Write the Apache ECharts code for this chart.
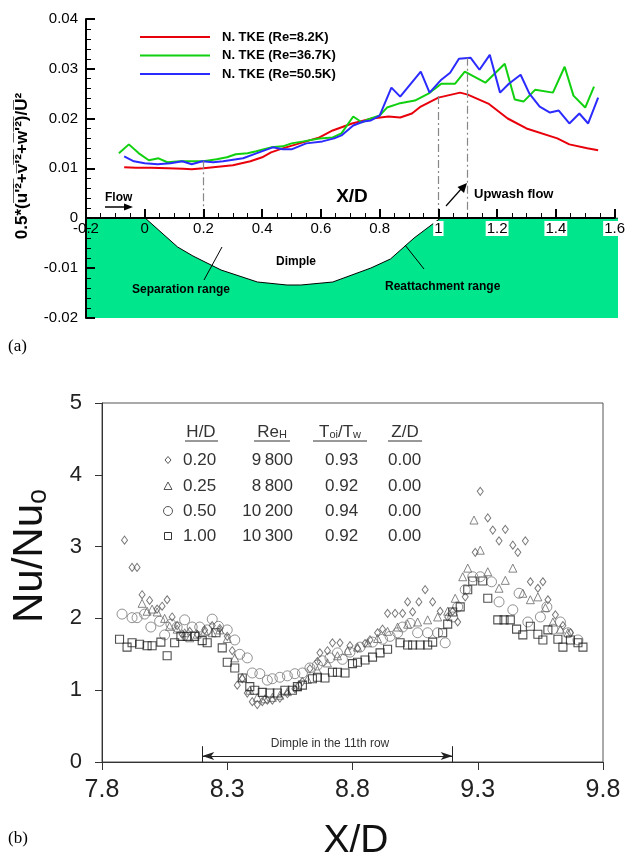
<!DOCTYPE html>
<html><head><meta charset="utf-8">
<script src="https://cdn.jsdelivr.net/npm/echarts@6/dist/echarts.min.js"></script>
<style>html,body{margin:0;padding:0;background:#fff}#c{width:629px;height:865px}</style>
</head><body><div id="c"></div>
<script>
// ---------- (a) data ----------
const seriesNamesA = ['N. TKE (Re=8.2K)', 'N. TKE (Re=36.7K)', 'N. TKE (Re=50.5K)'];
const tkeRe8_2K = [[-0.07,0.0102],[-0.03,0.0101],[0.02,0.0101],[0.08,0.0100],[0.13,0.0099],[0.16,0.0098],[0.2,0.0100],[0.25,0.0103],[0.3,0.0106],[0.36,0.0114],[0.40,0.0122],[0.43,0.0132],[0.47,0.0140],[0.527,0.0150],[0.595,0.0162],[0.64,0.0176],[0.706,0.0190],[0.774,0.0200],[0.83,0.0204],[0.87,0.0202],[0.91,0.0210],[0.94,0.0224],[1.0,0.0242],[1.074,0.0252],[1.1,0.0248],[1.17,0.0230],[1.236,0.0200],[1.30,0.0180],[1.405,0.0160],[1.446,0.0148],[1.507,0.0140],[1.544,0.0136]];
const tkeRe36_7K = [[-0.088,0.0130],[-0.054,0.0148],[-0.02,0.0130],[0.014,0.0116],[0.047,0.0120],[0.077,0.0112],[0.12,0.0114],[0.2,0.0114],[0.245,0.0118],[0.28,0.0122],[0.31,0.0128],[0.35,0.0130],[0.38,0.0134],[0.43,0.0142],[0.47,0.0144],[0.50,0.0150],[0.54,0.0154],[0.595,0.0160],[0.64,0.0162],[0.67,0.0170],[0.71,0.0204],[0.74,0.0192],[0.76,0.0198],[0.80,0.0206],[0.825,0.0222],[0.865,0.0230],[0.92,0.0236],[0.966,0.0250],[1.01,0.0270],[1.057,0.0270],[1.09,0.0294],[1.16,0.0272],[1.226,0.0310],[1.26,0.0238],[1.29,0.0234],[1.33,0.0258],[1.39,0.0252],[1.43,0.0304],[1.46,0.0246],[1.50,0.0222],[1.53,0.0264]];
const tkeRe50_5K = [[-0.07,0.0124],[-0.037,0.0114],[0.0,0.0110],[0.044,0.0108],[0.088,0.0110],[0.128,0.0114],[0.16,0.0108],[0.196,0.0114],[0.233,0.0112],[0.267,0.0114],[0.335,0.0120],[0.38,0.0130],[0.436,0.0142],[0.47,0.0138],[0.50,0.0138],[0.55,0.0150],[0.605,0.0154],[0.645,0.0160],[0.67,0.0166],[0.71,0.0186],[0.745,0.0194],[0.77,0.0196],[0.80,0.0206],[0.84,0.0262],[0.87,0.0244],[0.94,0.0294],[0.97,0.0252],[1.01,0.0278],[1.04,0.0292],[1.07,0.0320],[1.11,0.0322],[1.14,0.0298],[1.175,0.0328],[1.21,0.0252],[1.24,0.0270],[1.28,0.0288],[1.31,0.0250],[1.345,0.0224],[1.38,0.0212],[1.41,0.0216],[1.446,0.0190],[1.48,0.0210],[1.51,0.0190],[1.544,0.0242]];
const dimpleProfile = [[-0.2,0],[0,0],[0.11,-0.0058],[0.162,-0.0076],[0.257,-0.0104],[0.38,-0.0128],[0.48,-0.0134],[0.527,-0.0134],[0.635,-0.0128],[0.764,-0.0100],[0.83,-0.0082],[0.91,-0.0040],[1.0,0],[1.6,0]];
const refLinesA = [[0.2,0.0114],[1.0,0.0245],[1.1,0.0322]];

// ---------- (b) data ----------
const xTicksB = [7.8, 8.3, 8.8, 9.3, 9.8];
const legendHD = ['0.20','0.25','0.50','1.00'];
const legendRe = ['9\u2009800','8\u2009800','10\u2009200','10\u2009300'];
const legendT = ['0.93','0.92','0.94','0.92'];
const legendZ = ['0.00','0.00','0.00','0.00'];
const hd020 = [[7.89,3.09],[7.92,2.71],[7.94,2.71],[7.96,2.33],[7.99,2.25],[8.02,2.13],[8.04,2.17],[8.06,2.26],[8.08,2.02],[8.10,1.90],[8.12,1.78],[8.15,1.82],[8.18,1.78],[8.21,1.84],[8.24,1.90],[8.27,1.86],[8.30,1.75],[8.32,1.55],[8.34,1.07],[8.36,1.16],[8.38,0.96],[8.40,0.84],[8.42,0.80],[8.44,0.84],[8.46,0.86],[8.48,0.86],[8.51,0.89],[8.54,0.95],[8.57,1.02],[8.60,1.12],[8.63,1.30],[8.66,1.40],[8.67,1.52],[8.70,1.55],[8.72,1.66],[8.75,1.66],[8.79,1.62],[8.82,1.58],[8.85,1.65],[8.87,1.70],[8.90,1.80],[8.92,1.85],[8.94,2.07],[8.97,2.07],[9.00,2.07],[9.02,2.23],[9.04,2.09],[9.065,2.23],[9.09,2.40],[9.12,2.23],[9.15,2.10],[9.18,2.02],[9.20,2.10],[9.22,1.95],[9.25,2.30],[9.29,2.92],[9.31,3.77],[9.34,3.40],[9.36,3.23],[9.385,3.08],[9.41,3.24],[9.44,3.02],[9.46,2.92],[9.49,3.08],[9.51,2.51],[9.54,2.42],[9.56,2.51],[9.58,2.26],[9.61,2.05],[9.64,1.90],[9.67,1.80]];
const hd025 = [[7.96,2.21],[7.98,2.10],[8.00,2.13],[8.02,2.09],[8.05,2.00],[8.07,1.89],[8.10,1.85],[8.13,1.80],[8.15,1.73],[8.18,1.78],[8.21,1.82],[8.24,1.80],[8.27,1.84],[8.30,1.72],[8.33,1.45],[8.36,1.18],[8.39,1.00],[8.42,0.90],[8.45,0.88],[8.48,0.90],[8.51,0.93],[8.54,0.98],[8.58,1.05],[8.62,1.15],[8.66,1.28],[8.70,1.38],[8.74,1.48],[8.78,1.55],[8.82,1.60],[8.86,1.66],[8.90,1.72],[8.94,1.82],[8.98,1.88],[9.02,1.92],[9.06,1.95],[9.10,1.98],[9.14,2.02],[9.18,2.10],[9.21,2.28],[9.24,2.58],[9.26,2.70],[9.285,3.37],[9.31,2.95],[9.34,2.65],[9.385,2.42],[9.41,2.53],[9.44,2.70],[9.48,2.35],[9.51,2.26],[9.54,2.30],[9.57,2.15],[9.60,1.95],[9.63,1.85],[9.66,1.80]];
const hd050 = [[7.88,2.06],[7.92,2.01],[7.94,2.01],[7.97,2.06],[7.995,1.88],[8.03,1.96],[8.05,1.77],[8.075,1.92],[8.10,1.88],[8.13,1.98],[8.16,1.88],[8.19,1.88],[8.22,1.84],[8.24,1.99],[8.265,1.89],[8.30,1.84],[8.33,1.70],[8.35,1.50],[8.38,1.45],[8.40,1.24],[8.43,1.23],[8.46,1.14],[8.48,1.16],[8.51,1.18],[8.54,1.20],[8.57,1.23],[8.60,1.24],[8.63,1.31],[8.66,1.35],[8.68,1.41],[8.71,1.45],[8.74,1.52],[8.76,1.43],[8.79,1.53],[8.83,1.60],[8.88,1.67],[8.92,1.71],[8.95,1.75],[8.98,1.80],[9.00,1.88],[9.03,1.93],[9.06,1.80],[9.10,1.80],[9.14,1.80],[9.17,1.66],[9.20,2.02],[9.22,2.16],[9.25,2.40],[9.28,2.58],[9.31,2.58],[9.355,2.51],[9.385,2.23],[9.44,2.12],[9.465,2.35],[9.50,1.95],[9.55,2.02],[9.576,2.16],[9.60,1.85],[9.63,1.95],[9.66,1.80],[9.70,1.70]];
const hd100 = [[7.87,1.71],[7.90,1.60],[7.92,1.66],[7.95,1.64],[7.98,1.62],[8.00,1.62],[8.035,1.67],[8.06,1.48],[8.09,1.66],[8.115,1.75],[8.14,1.75],[8.17,1.75],[8.20,1.69],[8.22,1.66],[8.255,1.80],[8.28,1.59],[8.30,1.39],[8.33,1.31],[8.36,1.17],[8.39,1.05],[8.41,1.00],[8.44,0.97],[8.47,0.96],[8.50,0.96],[8.53,1.00],[8.56,1.00],[8.58,1.05],[8.60,1.07],[8.64,1.16],[8.66,1.18],[8.69,1.17],[8.72,1.25],[8.74,1.25],[8.77,1.24],[8.80,1.37],[8.82,1.39],[8.85,1.42],[8.88,1.46],[8.91,1.52],[8.94,1.57],[8.99,1.66],[9.02,1.63],[9.04,1.63],[9.07,1.63],[9.10,1.63],[9.12,1.67],[9.16,1.80],[9.18,1.92],[9.20,2.09],[9.23,2.16],[9.26,2.40],[9.28,2.52],[9.32,2.52],[9.34,2.28],[9.38,1.98],[9.405,1.98],[9.43,1.98],[9.455,1.85],[9.48,1.77],[9.51,1.89],[9.54,1.78],[9.56,1.70],[9.58,1.84],[9.62,1.71],[9.64,1.60],[9.67,1.70],[9.70,1.66],[9.72,1.60]];
const dimpleRowRange = [8.2, 9.2];

const FONT = '"Liberation Sans", Arial, Helvetica, sans-serif';
const chart = echarts.init(document.getElementById('c'), null, {renderer: 'canvas'});

const bold12 = {font: 'bold 12px ' + FONT, fill: '#000'};
const tableFont = '17px ' + FONT;
const tableColor = '#333';
const rowsY = [460, 486, 511, 536];
const GZ = 100;

const graphics = [
  {type:'text', z:GZ, left: 8, top: 338, style:{text:'(a)', font:'17px "Liberation Serif", "Times New Roman", serif', fill:'#000'}},
  {type:'text', z:GZ, left: 8, top: 830, style:{text:'(b)', font:'17px "Liberation Serif", "Times New Roman", serif', fill:'#000'}},
  {type:'text', z:GZ, x: 105, y: 198, style:Object.assign({text:'Flow', textVerticalAlign:'middle'}, bold12)},
  {type:'line', z:GZ, shape:{x1:105,y1:207,x2:127,y2:207}, style:{stroke:'#000', lineWidth:1.5}},
  {type:'polygon', z:GZ, shape:{points:[[133,207],[124,203.5],[124,210.5]]}, style:{fill:'#000'}},
  {type:'text', z:GZ, x: 352, y: 197, style:{text:'X/D', font:'bold 19px ' + FONT, fill:'#000', textAlign:'center', textVerticalAlign:'middle'}},
  {type:'text', z:GZ, x: 474, y: 194, style:{text:'Upwash flow', font:'bold 13px ' + FONT, fill:'#000', textVerticalAlign:'middle'}},
  {type:'line', z:GZ, shape:{x1:446,y1:206,x2:462,y2:188}, style:{stroke:'#000', lineWidth:1.2}},
  {type:'polygon', z:GZ, shape:{points:[[467,183],[464,193],[457.5,187]]}, style:{fill:'#000'}},
  {type:'text', z:GZ, x: 276, y: 262, style:Object.assign({text:'Dimple', textVerticalAlign:'middle'}, bold12)},
  {type:'text', z:GZ, x: 132, y: 290, style:Object.assign({text:'Separation range', textVerticalAlign:'middle'}, bold12)},
  {type:'line', z:GZ, shape:{x1:204,y1:280,x2:222,y2:247}, style:{stroke:'#000', lineWidth:1}},
  {type:'text', z:GZ, x: 385, y: 287, style:Object.assign({text:'Reattachment range', textVerticalAlign:'middle'}, bold12)},
  {type:'line', z:GZ, shape:{x1:405,y1:245,x2:424,y2:269}, style:{stroke:'#000', lineWidth:1}},
  {type:'text', z:GZ, x: 22, y: 166, rotation: Math.PI/2,
   style:{text:"0.5*(u\u0305'\u0305\u00B2\u0305+v\u0305'\u0305\u00B2\u0305+w\u0305'\u0305\u00B2\u0305)/U\u0305\u00B2",
          font:'bold 17px ' + FONT, fill:'#000', textAlign:'center', textVerticalAlign:'middle'}},
  {type:'text', z:GZ, x: 30, y: 556, rotation: Math.PI/2,
   style:{text:'{a|Nu/Nu}{b|o}', textAlign:'center', textVerticalAlign:'middle',
          rich:{a:{font:'42px ' + FONT, fill:'#111', lineHeight:44}, b:{font:'27px ' + FONT, fill:'#111', verticalAlign:'bottom', lineHeight:30, padding:[14,0,0,0]}}}},
  {type:'text', z:GZ, x: 356, y: 841, style:{text:'X/D', font:'39px ' + FONT, fill:'#111', textAlign:'center', textVerticalAlign:'middle'}},
  {type:'text', z:GZ, x: 201, y: 432, style:{text:'H/D', font: tableFont, fill: tableColor, textAlign:'center', textVerticalAlign:'middle'}},
  {type:'text', z:GZ, x: 272, y: 432, style:{text:'{a|Re}{b|H}', textAlign:'center', textVerticalAlign:'middle',
     rich:{a:{font: tableFont, fill: tableColor}, b:{font:'11px ' + FONT, fill: tableColor, verticalAlign:'bottom', padding:[6,0,0,0]}}}},
  {type:'text', z:GZ, x: 340, y: 432, style:{text:'{a|T}{b|oi}{a|/T}{b|w}', textAlign:'center', textVerticalAlign:'middle',
     rich:{a:{font: tableFont, fill: tableColor}, b:{font:'11px ' + FONT, fill: tableColor, verticalAlign:'bottom', padding:[6,0,0,0]}}}},
  {type:'text', z:GZ, x: 405, y: 432, style:{text:'Z/D', font: tableFont, fill: tableColor, textAlign:'center', textVerticalAlign:'middle'}},
  {type:'line', z:GZ, shape:{x1:185,y1:441,x2:218,y2:441}, style:{stroke: tableColor, lineWidth:1}},
  {type:'line', z:GZ, shape:{x1:254,y1:441,x2:290,y2:441}, style:{stroke: tableColor, lineWidth:1}},
  {type:'line', z:GZ, shape:{x1:313,y1:441,x2:367,y2:441}, style:{stroke: tableColor, lineWidth:1}},
  {type:'line', z:GZ, shape:{x1:388,y1:441,x2:422,y2:441}, style:{stroke: tableColor, lineWidth:1}},
  {type:'polygon', z:GZ, shape:{points:[[168,456.5],[171,460],[168,463.5],[165,460]]}, style:{fill:'none', stroke:'#555', lineWidth:1}},
  {type:'polygon', z:GZ, shape:{points:[[168,482],[172,489.5],[164,489.5]]}, style:{fill:'none', stroke:'#555', lineWidth:1}},
  {type:'circle', z:GZ, shape:{cx:168, cy:511, r:4.5}, style:{fill:'none', stroke:'#555', lineWidth:1}},
  {type:'rect', z:GZ, shape:{x:164.5, y:532.5, width:7, height:7}, style:{fill:'none', stroke:'#333', lineWidth:1}},
  {type:'text', z:GZ, x: 330, y: 744, style:{text:'Dimple in the 11th row', font:'12px ' + FONT, fill:'#333', textAlign:'center', textVerticalAlign:'middle'}}
];
legendHD.forEach((t,i)=>graphics.push({type:'text', z:GZ, x:183, y:rowsY[i], style:{text:t, font:tableFont, fill:tableColor, textVerticalAlign:'middle'}}));
legendRe.forEach((t,i)=>graphics.push({type:'text', z:GZ, x:293, y:rowsY[i], style:{text:t, font:tableFont, fill:tableColor, textAlign:'right', textVerticalAlign:'middle'}}));
legendT.forEach((t,i)=>graphics.push({type:'text', z:GZ, x:325, y:rowsY[i], style:{text:t, font:tableFont, fill:tableColor, textVerticalAlign:'middle'}}));
legendZ.forEach((t,i)=>graphics.push({type:'text', z:GZ, x:388, y:rowsY[i], style:{text:t, font:tableFont, fill:tableColor, textVerticalAlign:'middle'}}));

function fmtA(v){ const r = Math.round(v*10)/10; return r >= 1 ? '{w|' + r + '}' : String(r); }
function fmtAY(v){ const r = Math.round(v*100)/100; return r === 0 ? '0' : String(r); }
const hollow = (c, w) => ({color:'rgba(0,0,0,0)', borderColor:c, borderWidth:w});
const axA = {color:'#000', width:2};

const option = {
  animation: false,
  backgroundColor: '#fff',
  grid: [
    {left: 86, top: 19, width: 532, height: 199},
    {left: 86, top: 218, width: 532, height: 100},
    {left: 102, top: 403, width: 501, height: 359, show: true, borderColor: '#555', borderWidth: 1, backgroundColor:'transparent'}
  ],
  legend: {
    data: seriesNamesA, orient: 'vertical', left: 140, top: 30, padding: 0,
    icon: 'rect', itemWidth: 70, itemHeight: 2, itemGap: 4.5,
    textStyle: {fontFamily: FONT, fontWeight: 'bold', fontSize: 13, color: '#000', lineHeight: 14, padding: [0,0,0,7]},
    selectedMode: false
  },
  xAxis: [
    {type:'value', gridIndex:0, min:-0.2, max:1.6, interval:0.2, z: 10, position:'bottom',
     axisLine:{show:true, onZero:false, lineStyle:axA},
     axisTick:{show:true, inside:true, length:9, lineStyle:axA},
     minorTick:{show:true, splitNumber:4, length:5, lineStyle:{color:'#000', width:1}},
     axisLabel:{fontFamily:FONT, fontSize:15, color:'#000', margin:3, formatter: fmtA,
        rich:{w:{backgroundColor:'#fff', fontFamily:FONT, fontSize:15, color:'#000', padding:[0,1,0,1]}}},
     splitLine:{show:false}},
    {type:'value', gridIndex:1, min:-0.2, max:1.6, interval:0.2, show:false},
    {type:'value', gridIndex:2, min:7.8, max:9.8, z: 5,
     axisLine:{show:true, onZero:false, lineStyle:{color:'#333', width:1}},
     axisTick:{show:true, inside:false, length:8, customValues: xTicksB, lineStyle:{color:'#333'}},
     axisLabel:{fontFamily:FONT, fontSize:25, color:'#222', margin:16, customValues: xTicksB, formatter: v => v.toFixed(1)},
     splitLine:{show:false}}
  ],
  yAxis: [
    {type:'value', gridIndex:0, min:0, max:0.04, interval:0.01, z: 10,
     axisLine:{show:true, onZero:false, lineStyle:axA},
     axisTick:{show:true, inside:true, length:9, lineStyle:axA},
     minorTick:{show:true, splitNumber:5, length:5, lineStyle:{color:'#000', width:1}},
     axisLabel:{fontFamily:FONT, fontSize:15, color:'#000', margin:8, formatter: fmtAY},
     splitLine:{show:false}},
    {type:'value', gridIndex:1, min:-0.02, max:0, interval:0.01, z: 10,
     axisLine:{show:true, onZero:false, lineStyle:axA},
     axisTick:{show:true, inside:true, length:9, lineStyle:axA},
     minorTick:{show:true, splitNumber:5, length:5, lineStyle:{color:'#000', width:1}},
     axisLabel:{fontFamily:FONT, fontSize:15, color:'#000', margin:8, formatter: fmtAY, showMaxLabel:false},
     splitLine:{show:false}},
    {type:'value', gridIndex:2, min:0, max:5, interval:1, z: 5,
     axisLine:{show:true, onZero:false, lineStyle:{color:'#333', width:1}},
     axisTick:{show:true, inside:false, length:7, lineStyle:{color:'#333'}},
     axisLabel:{fontFamily:FONT, fontSize:22, color:'#222', margin:20},
     splitLine:{show:false}}
  ],
  series: [
    {name:'dimple', type:'line', xAxisIndex:1, yAxisIndex:1, data: dimpleProfile, symbol:'none', silent:true, z:1,
     lineStyle:{color:'#000', width:1}, areaStyle:{color:'#00E68C', opacity:1, origin:'start'}},
    {name: seriesNamesA[0], type:'line', xAxisIndex:0, yAxisIndex:0, data: tkeRe8_2K, symbol:'none', z:3,
     lineStyle:{color:'#E8000B', width:2}, itemStyle:{color:'#E8000B'},
     markLine:{silent:true, symbol:'none', label:{show:false},
       lineStyle:{color:'#888', width:1.2, type:[8,3,2,3]},
       data: refLinesA.map(p => [{coord:[p[0], p[1]]}, {coord:[p[0], 0]}])}},
    {name: seriesNamesA[1], type:'line', xAxisIndex:0, yAxisIndex:0, data: tkeRe36_7K, symbol:'none', z:3,
     lineStyle:{color:'#10D010', width:2}, itemStyle:{color:'#10D010'}},
    {name: seriesNamesA[2], type:'line', xAxisIndex:0, yAxisIndex:0, data: tkeRe50_5K, symbol:'none', z:4,
     lineStyle:{color:'#2B2BFF', width:2}, itemStyle:{color:'#2B2BFF'}},
    {name:'H/D 0.50', type:'scatter', xAxisIndex:2, yAxisIndex:2, data: hd050, symbol:'circle', symbolSize:10,
     itemStyle: hollow('#777', 1)},
    {name:'H/D 0.25', type:'scatter', xAxisIndex:2, yAxisIndex:2, data: hd025, symbol:'triangle', symbolSize:8,
     itemStyle: hollow('#666', 1)},
    {name:'H/D 0.20', type:'scatter', xAxisIndex:2, yAxisIndex:2, data: hd020, symbol:'diamond', symbolSize:[6,8],
     itemStyle: hollow('#555', 1)},
    {name:'H/D 1.00', type:'scatter', xAxisIndex:2, yAxisIndex:2, data: hd100, symbol:'rect', symbolSize:8,
     itemStyle: hollow('#222', 1.1),
     markLine:{silent:true, label:{show:false}, lineStyle:{color:'#222', width:1, type:'solid'},
       data:[
         [{coord:[dimpleRowRange[0], 0.085], symbol:'arrow', symbolSize:[6,12]}, {coord:[dimpleRowRange[1], 0.085], symbol:'arrow', symbolSize:[6,12]}],
         [{coord:[dimpleRowRange[0], 0], symbol:'none'}, {coord:[dimpleRowRange[0], 0.22], symbol:'none'}],
         [{coord:[dimpleRowRange[1], 0], symbol:'none'}, {coord:[dimpleRowRange[1], 0.22], symbol:'none'}]
       ]}}
  ],
  graphic: graphics
};
chart.setOption(option);
</script></body></html>
